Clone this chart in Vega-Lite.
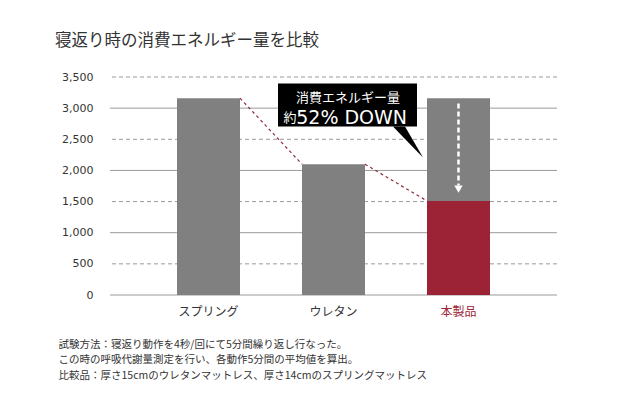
{
  "$schema": "https://vega.github.io/schema/vega-lite/v6.json",
  "autosize": "none",
  "width": 447,
  "height": 218,
  "padding": {"left": 110, "top": 77, "right": 64, "bottom": 99},
  "background": "white",
  "config": {"view": {"stroke": null}, "font": "Noto Sans CJK JP"},
  "title": {
    "text": "寝返り時の消費エネルギー量を比較",
    "anchor": "start",
    "frame": "group",
    "dx": -55,
    "offset": 22,
    "fontSize": 16.5,
    "fontWeight": "normal",
    "font": "Noto Sans CJK JP",
    "color": "#333333"
  },
  "datasets": {
    "grid": [
      {"v": 0, "kind": "solid"},
      {"v": 500, "kind": "dash"},
      {"v": 1000, "kind": "solid"},
      {"v": 1500, "kind": "dash"},
      {"v": 2000, "kind": "solid"},
      {"v": 2500, "kind": "dash"},
      {"v": 3000, "kind": "solid"},
      {"v": 3500, "kind": "dash"}
    ],
    "bars": [
      {"cat": "スプリング", "value": 3160, "part": "base"},
      {"cat": "ウレタン", "value": 2100, "part": "base"},
      {"cat": "本製品", "value": 3160, "part": "base"},
      {"cat": "本製品", "value": 1510, "part": "product"}
    ],
    "connectors": [
      {"seg": "a", "px": 0.252, "v": 3160},
      {"seg": "a", "px": 0.748, "v": 2100},
      {"seg": "b", "px": 1.252, "v": 2100},
      {"seg": "b", "px": 1.748, "v": 1510}
    ],
    "box": [{"x1": 0.556, "x2": 1.668, "y1": 3396, "y2": 2705}],
    "tail": [
      {"px": 1.476, "y": 2705, "y2": 2705},
      {"px": 1.572, "y": 2705, "y2": 2506},
      {"px": 1.716, "y": 2208, "y2": 2208}
    ],
    "arrow": [{"px": 2, "top": 3075, "bottom": 1760, "tip": 1700}]
  },
  "encoding": {
    "y": {
      "type": "quantitative",
      "scale": {"domain": [0, 3500], "nice": false},
      "axis": {
        "title": null,
        "values": [0, 500, 1000, 1500, 2000, 2500, 3000, 3500],
        "format": ",d",
        "labelFont": "DejaVu Sans",
        "labelFontSize": 11,
        "labelColor": "#333333",
        "labelPadding": 17,
        "ticks": false,
        "domain": false,
        "grid": false
      }
    }
  },
  "layer": [
    {
      "data": {"name": "grid"},
      "transform": [{"filter": "datum.kind == 'solid'"}],
      "mark": {"type": "rule", "color": "#9a9a9a", "strokeWidth": 1},
      "encoding": {"y": {"field": "v", "type": "quantitative"}}
    },
    {
      "data": {"name": "grid"},
      "transform": [{"filter": "datum.kind == 'dash'"}],
      "mark": {"type": "rule", "color": "#9a9a9a", "strokeWidth": 1, "strokeDash": [4, 3]},
      "encoding": {"y": {"field": "v", "type": "quantitative"}}
    },
    {
      "data": {"name": "bars"},
      "mark": {"type": "bar"},
      "encoding": {
        "x": {
          "field": "cat",
          "type": "nominal",
          "sort": null,
          "scale": {"paddingInner": 0.496, "paddingOuter": 0.536},
          "axis": {
            "title": ["試験方法：寝返り動作を4秒/回にて5分間繰り返し行なった。", "この時の呼吸代謝量測定を行い、各動作5分間の平均値を算出。", "比較品：厚さ15cmのウレタンマットレス、厚さ14cmのスプリングマットレス"],
            "titleFont": "Noto Sans CJK JP",
            "titleFontSize": 10.5,
            "titleFontWeight": "normal",
            "titleColor": "#333333",
            "titleAlign": "left",
            "titleAnchor": "start",
            "titleBaseline": "top",
            "titleLineHeight": 15.5,
            "titleX": -52,
            "titleY": 44,
            "labelAngle": 0,
            "labelFont": "Noto Sans CJK JP",
            "labelFontSize": 12,
            "labelPadding": 11,
            "labelColor": {"condition": {"test": "datum.value == '本製品'", "value": "#9b2335"}, "value": "#333333"},
            "ticks": false,
            "domain": false
          }
        },
        "y": {"field": "value", "type": "quantitative", "stack": null},
        "color": {
          "field": "part",
          "type": "nominal",
          "scale": {"domain": ["base", "product"], "range": ["#808080", "#9b2335"]},
          "legend": null
        }
      }
    },
    {
      "data": {"name": "connectors"},
      "mark": {"type": "line", "color": "#8b2a3a", "strokeDash": [3, 3], "strokeWidth": 1.2},
      "encoding": {
        "x": {"field": "px", "type": "quantitative", "scale": {"domain": [-0.788, 2.788], "nice": false, "zero": false}, "axis": null},
        "y": {"field": "v", "type": "quantitative"},
        "detail": {"field": "seg"}
      }
    },
    {
      "data": {"name": "box"},
      "mark": {"type": "rect", "color": "#000000"},
      "encoding": {
        "x": {"field": "x1", "type": "quantitative", "scale": {"domain": [-0.788, 2.788], "nice": false, "zero": false}, "axis": null},
        "x2": {"field": "x2"},
        "y": {"field": "y1", "type": "quantitative"},
        "y2": {"field": "y2"}
      }
    },
    {
      "data": {"name": "tail"},
      "mark": {"type": "area", "color": "#000000"},
      "encoding": {
        "x": {"field": "px", "type": "quantitative", "scale": {"domain": [-0.788, 2.788], "nice": false, "zero": false}, "axis": null},
        "y": {"field": "y", "type": "quantitative"},
        "y2": {"field": "y2"}
      }
    },
    {
      "data": {"values": [{"px": 1.116, "v": 3155, "t": "消費エネルギー量"}]},
      "mark": {"type": "text", "color": "white", "font": "Noto Sans CJK JP", "fontSize": 13, "align": "center", "baseline": "middle"},
      "encoding": {
        "x": {"field": "px", "type": "quantitative", "scale": {"domain": [-0.788, 2.788], "nice": false, "zero": false}, "axis": null},
        "y": {"field": "v", "type": "quantitative"},
        "text": {"field": "t"}
      }
    },
    {
      "data": {"values": [{"px": 0.652, "v": 2834, "t": "約"}]},
      "mark": {"type": "text", "color": "white", "font": "Noto Sans CJK JP", "fontSize": 13, "align": "center", "baseline": "middle"},
      "encoding": {
        "x": {"field": "px", "type": "quantitative", "scale": {"domain": [-0.788, 2.788], "nice": false, "zero": false}, "axis": null},
        "y": {"field": "v", "type": "quantitative"},
        "text": {"field": "t"}
      }
    },
    {
      "data": {"values": [{"px": 1.145, "v": 2834, "t": "52% DOWN"}]},
      "mark": {"type": "text", "color": "white", "font": "DejaVu Sans", "fontSize": 19, "align": "center", "baseline": "middle"},
      "encoding": {
        "x": {"field": "px", "type": "quantitative", "scale": {"domain": [-0.788, 2.788], "nice": false, "zero": false}, "axis": null},
        "y": {"field": "v", "type": "quantitative"},
        "text": {"field": "t"}
      }
    },
    {
      "data": {"name": "arrow"},
      "mark": {"type": "rule", "color": "white", "strokeWidth": 2.5, "strokeDash": [5, 3]},
      "encoding": {
        "x": {"field": "px", "type": "quantitative", "scale": {"domain": [-0.788, 2.788], "nice": false, "zero": false}, "axis": null},
        "y": {"field": "top", "type": "quantitative"},
        "y2": {"field": "bottom"}
      }
    },
    {
      "data": {"name": "arrow"},
      "mark": {"type": "point", "shape": "triangle-down", "filled": true, "color": "white", "opacity": 1, "size": 70},
      "encoding": {
        "x": {"field": "px", "type": "quantitative", "scale": {"domain": [-0.788, 2.788], "nice": false, "zero": false}, "axis": null},
        "y": {"field": "tip", "type": "quantitative"}
      }
    }
  ],
  "resolve": {"scale": {"x": "independent"}}
}
